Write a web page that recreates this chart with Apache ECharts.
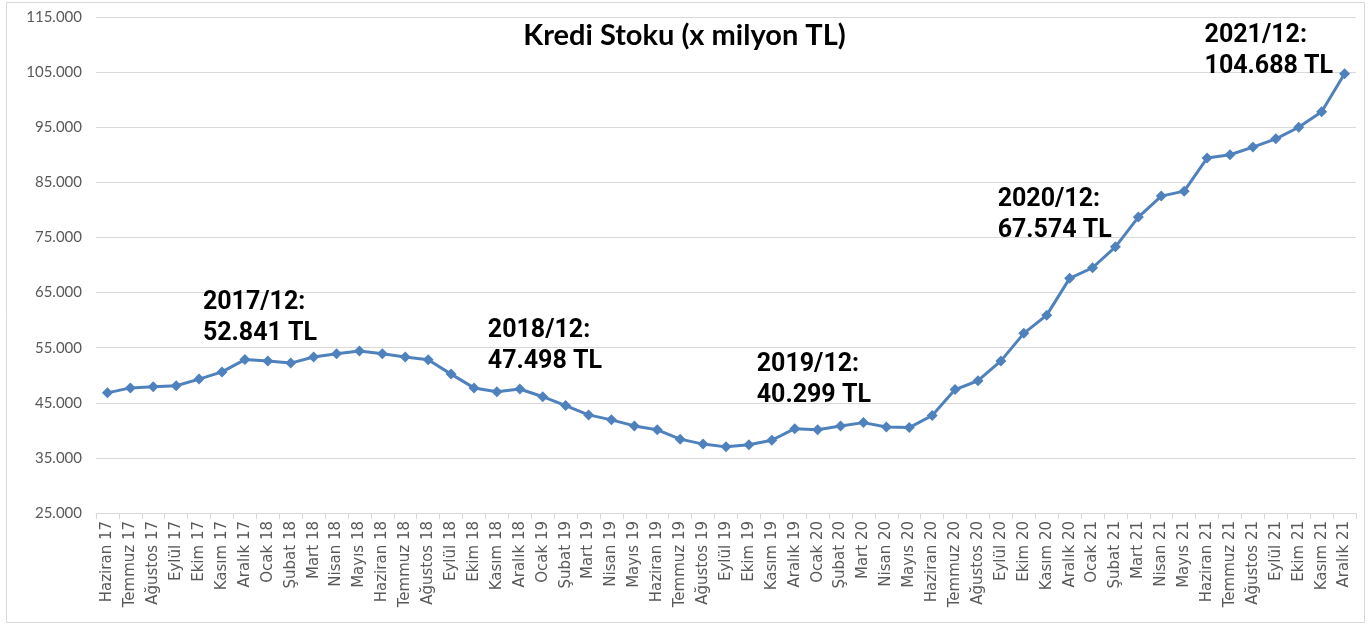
<!DOCTYPE html>
<html>
<head>
<meta charset="utf-8">
<script src="https://cdn.jsdelivr.net/npm/echarts@6/dist/echarts.min.js"></script>
<style>
html,body{margin:0;padding:0;background:#fff;}
#c{width:1369px;height:625px;}
</style>
</head>
<body>
<div id="c"></div>
<script>
var categories = [
 "Haziran 17","Temmuz 17","Ağustos 17","Eylül 17","Ekim 17","Kasım 17","Aralık 17",
 "Ocak 18","Şubat 18","Mart 18","Nisan 18","Mayıs 18","Haziran 18","Temmuz 18","Ağustos 18","Eylül 18","Ekim 18","Kasım 18","Aralık 18",
 "Ocak 19","Şubat 19","Mart 19","Nisan 19","Mayıs 19","Haziran 19","Temmuz 19","Ağustos 19","Eylül 19","Ekim 19","Kasım 19","Aralık 19",
 "Ocak 20","Şubat 20","Mart 20","Nisan 20","Mayıs 20","Haziran 20","Temmuz 20","Ağustos 20","Eylül 20","Ekim 20","Kasım 20","Aralık 20",
 "Ocak 21","Şubat 21","Mart 21","Nisan 21","Mayıs 21","Haziran 21","Temmuz 21","Ağustos 21","Eylül 21","Ekim 21","Kasım 21","Aralık 21"
];
var krediStoku = [
 46800,47700,47900,48100,49300,50600,52841,
 52600,52200,53300,53900,54400,53900,53300,52800,50200,47700,47000,47498,
 46100,44500,42800,41900,40800,40100,38400,37500,37000,37400,38200,40299,
 40100,40800,41400,40600,40500,42700,47400,49000,52600,57600,60900,67574,
 69500,73300,78700,82500,83400,89400,90000,91400,92900,95000,97800,104688
];
var annotatedIndex = [6, 18, 30, 42, 54];
var annotatedYear = ["2017/12:", "2018/12:", "2019/12:", "2020/12:", "2021/12:"];
var yTicks = {min: 25000, max: 115000, interval: 10000};

// label offsets (styling only)
var labelOffsets = [[-42,-5],[-32,-6],[-38,-12],[-72,-27],[-140,14]];

function fmt(v){ return String(v).replace(/\B(?=(\d{3})+(?!\d))/g, "."); }

var seriesData = krediStoku.map(function(v, i){
  var k = annotatedIndex.indexOf(i);
  if (k < 0) return v;
  return {
    value: v,
    label: {
      show: true,
      position: 'top',
      distance: 0,
      align: 'left',
      offset: labelOffsets[k],
      formatter: annotatedYear[k] + "\n" + fmt(v) + " TL",
      fontFamily: 'Roboto',
      fontWeight: 'bold',
      fontSize: 25,
      lineHeight: 31,
      color: '#000'
    }
  };
});

var chart = echarts.init(document.getElementById('c'), null, {renderer: 'canvas'});
chart.setOption({
  animation: false,
  backgroundColor: '#fff',
  title: {
    text: 'Kredi Stoku (x milyon TL)',
    left: 'center',
    top: 16,
    textStyle: {fontFamily: 'Lato', fontWeight: 'bold', fontSize: 29, color: '#000'}
  },
  graphic: [{
    type: 'rect',
    shape: {x: 6.5, y: 2.5, width: 1358, height: 620},
    style: {fill: 'none', stroke: '#d9d9d9', lineWidth: 1},
    silent: true, z: -1
  }],
  grid: {left: 96, right: 13, top: 17, bottom: 112},
  xAxis: {
    type: 'category',
    data: categories,
    boundaryGap: true,
    axisLine: {lineStyle: {color: '#d9d9d9', width: 1}},
    axisTick: {show: true, interval: 0, length: 6, lineStyle: {color: '#d9d9d9'}},
    axisLabel: {interval: 0, rotate: 90, margin: 8, fontFamily: 'DejaVu Sans', fontSize: 15, color: '#595959'}
  },
  yAxis: {
    type: 'value',
    min: yTicks.min, max: yTicks.max, interval: yTicks.interval,
    axisLine: {show: false},
    axisTick: {show: false},
    splitLine: {lineStyle: {color: '#d9d9d9', width: 1}},
    axisLabel: {fontFamily: 'Lato', fontSize: 15, color: '#595959', margin: 14, formatter: function(v){ return fmt(v); }}
  },
  series: [{
    type: 'line',
    data: seriesData,
    symbol: 'diamond',
    symbolSize: 11,
    lineStyle: {color: '#4f81bd', width: 3},
    itemStyle: {color: '#4f81bd'},
    label: {show: false}
  }]
});
</script>
</body>
</html>
